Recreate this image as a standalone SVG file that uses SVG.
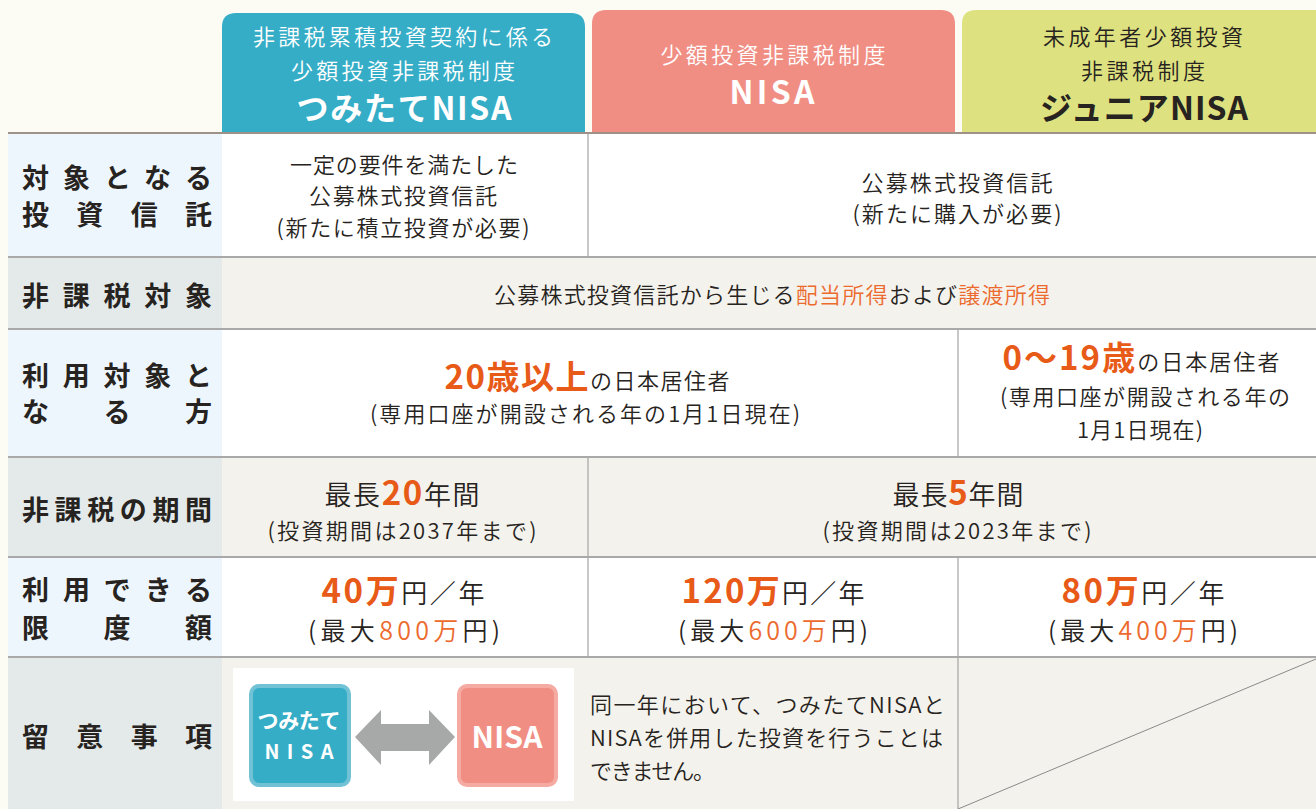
<svg xmlns="http://www.w3.org/2000/svg" width="1316" height="809" viewBox="0 0 1316 809">
<style>
text{font-family:"Noto Sans CJK JP","Noto Sans",sans-serif;fill:#262320;font-weight:350}
.lab{font-size:27px;font-weight:bold}
.c{text-anchor:middle}
.t{font-size:22px}
.s{font-size:22px}
.b{font-weight:bold}
.o{fill:#ec6a2e}
.ob{fill:#e85a17;font-weight:bold}
.w{fill:#ffffff}
.hs{font-size:22px}
.hb{font-weight:bold;font-size:32px}
.sep{stroke:#a9a9a9;stroke-width:2}
.vd{stroke:#a3a3a3;stroke-width:1.2}
</style>
<rect x="0" y="0" width="1316" height="809" fill="#fcfcf4"/>

<g id="header-tsumitate">
<path d="M222,133 V27 Q222,13 236,13 H571 Q585,13 585,27 V133 Z" fill="#35adc7"/>
<text class="c w hs" x="403" y="45" textLength="300" lengthAdjust="spacing">非課税累積投資契約に係る</text>
<text class="c w hs" x="403" y="79" textLength="224" lengthAdjust="spacing">少額投資非課税制度</text>
<text class="c w hb" x="404" y="120" textLength="215" lengthAdjust="spacing">つみたてNISA</text>
</g>
<g id="header-nisa">
<path d="M592,133 V24 Q592,10 606,10 H941 Q955,10 955,24 V133 Z" fill="#f08e84"/>
<text class="c w hs" x="773" y="63" textLength="225" lengthAdjust="spacing">少額投資非課税制度</text>
<text class="c w hb" x="772" y="104" font-size="35" textLength="85" lengthAdjust="spacing">NISA</text>
</g>
<g id="header-junior">
<path d="M962,133 V24 Q962,10 976,10 H1316 V133 Z" fill="#dee17f"/>
<text class="c hs" x="1143" y="45" textLength="200" lengthAdjust="spacing">未成年者少額投資</text>
<text class="c hs" x="1143" y="79" textLength="124" lengthAdjust="spacing">非課税制度</text>
<text class="c hb" x="1144" y="120" textLength="208" lengthAdjust="spacing">ジュニアNISA</text>
</g>

<g id="row-target-fund">
<rect x="8" y="133" width="214" height="124" fill="#eef6fd"/>
<rect x="222" y="133" width="1094" height="124" fill="#ffffff"/>
<line class="vd" x1="588" y1="133" x2="588" y2="257"/>
<text class="lab" x="22" y="188" textLength="190" lengthAdjust="spacing">対象となる</text>
<text class="lab" x="22" y="225" textLength="190" lengthAdjust="spacing">投資信託</text>
<text class="c t" x="404" y="173" textLength="228" lengthAdjust="spacing">一定の要件を満たした</text>
<text class="c t" x="403" y="204" textLength="188" lengthAdjust="spacing">公募株式投資信託</text>
<text class="c t" x="403" y="236" textLength="253" lengthAdjust="spacing">(新たに積立投資が必要)</text>
<text class="c t" x="957" y="191" textLength="191" lengthAdjust="spacing">公募株式投資信託</text>
<text class="c t" x="957" y="222" textLength="209" lengthAdjust="spacing">(新たに購入が必要)</text>
</g>

<g id="row-taxfree-target">
<rect x="8" y="257" width="214" height="72" fill="#e4eaea"/>
<rect x="222" y="257" width="1094" height="72" fill="#f4f2ec"/>
<text class="lab" x="22" y="306" textLength="190" lengthAdjust="spacing">非課税対象</text>
<text class="c t" x="772" y="303" textLength="556" lengthAdjust="spacing">公募株式投資信託から生じる<tspan class="o">配当所得</tspan>および<tspan class="o">譲渡所得</tspan></text>
</g>

<g id="row-eligible">
<rect x="8" y="329" width="214" height="128" fill="#eef6fd"/>
<rect x="222" y="329" width="1094" height="128" fill="#ffffff"/>
<line class="vd" x1="958" y1="329" x2="958" y2="457"/>
<text class="lab" x="22" y="386" textLength="190" lengthAdjust="spacing">利用対象と</text>
<text class="lab" x="22" y="422" textLength="190" lengthAdjust="spacing">なる方</text>
<text class="c t" x="587" y="389" textLength="285" lengthAdjust="spacing"><tspan class="ob" font-size="33">20歳以上</tspan>の日本居住者</text>
<text class="c t" x="585" y="422" textLength="430" lengthAdjust="spacing">(専用口座が開設される年の1月1日現在)</text>
<text class="c t" x="1141" y="370" textLength="277" lengthAdjust="spacing"><tspan class="ob" font-size="33">0〜19歳</tspan>の日本居住者</text>
<text class="c t" x="1145" y="405" textLength="290" lengthAdjust="spacing">(専用口座が開設される年の</text>
<text class="c t" x="1140" y="438" textLength="126" lengthAdjust="spacing">1月1日現在)</text>
</g>

<g id="row-period">
<rect x="8" y="457" width="214" height="100" fill="#e4eaea"/>
<rect x="222" y="457" width="1094" height="100" fill="#f4f2ec"/>
<line class="vd" x1="588" y1="457" x2="588" y2="557"/>
<text class="lab" x="22" y="520" textLength="190" lengthAdjust="spacing">非課税の期間</text>
<text class="c" x="402" y="505" font-size="27" textLength="155" lengthAdjust="spacing">最長<tspan class="ob" font-size="33">20</tspan>年間</text>
<text class="c s" x="402" y="539" textLength="269" lengthAdjust="spacing">(投資期間は2037年まで)</text>
<text class="c" x="958" y="505" font-size="27" textLength="131" lengthAdjust="spacing">最長<tspan class="ob" font-size="33">5</tspan>年間</text>
<text class="c s" x="957" y="539" textLength="269" lengthAdjust="spacing">(投資期間は2023年まで)</text>
</g>

<g id="row-limit">
<rect x="8" y="557" width="214" height="100" fill="#eef6fd"/>
<rect x="222" y="557" width="1094" height="100" fill="#ffffff"/>
<line class="vd" x1="588" y1="557" x2="588" y2="657"/>
<line class="vd" x1="958" y1="557" x2="958" y2="657"/>
<text class="lab" x="22" y="600" textLength="190" lengthAdjust="spacing">利用できる</text>
<text class="lab" x="22" y="638" textLength="190" lengthAdjust="spacing">限度額</text>
<text class="c" x="403" y="603" font-size="26" textLength="163" lengthAdjust="spacing"><tspan class="ob" font-size="33">40万</tspan>円／年</text>
<text class="c" x="404" y="640" font-size="25" textLength="192" lengthAdjust="spacing">(最大<tspan class="o">800万</tspan>円)</text>
<text class="c" x="773" y="603" font-size="26" textLength="183" lengthAdjust="spacing"><tspan class="ob" font-size="33">120万</tspan>円／年</text>
<text class="c" x="773" y="640" font-size="25" textLength="190" lengthAdjust="spacing">(最大<tspan class="o">600万</tspan>円)</text>
<text class="c" x="1143" y="603" font-size="26" textLength="163" lengthAdjust="spacing"><tspan class="ob" font-size="33">80万</tspan>円／年</text>
<text class="c" x="1143" y="640" font-size="25" textLength="190" lengthAdjust="spacing">(最大<tspan class="o">400万</tspan>円)</text>
</g>

<g id="row-notes">
<rect x="8" y="657" width="214" height="152" fill="#e4eaea"/>
<rect x="222" y="657" width="1094" height="152" fill="#f4f2ec"/>
<line class="vd" x1="958" y1="657" x2="958" y2="809"/>
<line x1="958" y1="809" x2="1316" y2="659" stroke="#8a8a8a" stroke-width="1"/>
<text class="lab" x="22" y="747" textLength="190" lengthAdjust="spacing">留意事項</text>
<rect x="233" y="668" width="341" height="133" fill="#ffffff"/>
<text class="t" x="590" y="713" textLength="355" lengthAdjust="spacing">同一年において、つみたてNISAと</text>
<text class="t" x="590" y="746" textLength="353" lengthAdjust="spacing">NISAを併用した投資を行うことは</text>
<text class="t" x="590" y="779" textLength="125" lengthAdjust="spacing">できません。</text>
</g>

<g id="node-tsumitate-small">
<rect x="251" y="686" width="98" height="99" rx="8" fill="#35adc7" stroke="#72c2d6" stroke-width="4"/>
<text class="c w b" x="299" y="728" font-size="21" textLength="83" lengthAdjust="spacing">つみたて</text>
<text class="c w b" x="299" y="759" font-size="20" textLength="69" lengthAdjust="spacing">NISA</text>
</g>
<g id="node-nisa-small">
<rect x="459" y="686" width="97" height="99" rx="8" fill="#f08e84" stroke="#f5aaa2" stroke-width="4"/>
<text class="c w b" x="507" y="748" font-size="30" textLength="71" lengthAdjust="spacing">NISA</text>
</g>

<g id="connectors">
<polygon points="355,737 381,710 381,724 429,724 429,710 455,737 429,765 429,751 381,751 381,765" fill="#a7a9a8"/>
</g>

<g id="grid-lines">
<line x1="8" y1="133" x2="1316" y2="133" stroke="#9e9188" stroke-width="2"/>
<line class="sep" x1="8" y1="257" x2="1316" y2="257"/>
<line class="sep" x1="8" y1="329" x2="1316" y2="329"/>
<line class="sep" x1="8" y1="457" x2="1316" y2="457"/>
<line class="sep" x1="8" y1="557" x2="1316" y2="557"/>
<line class="sep" x1="8" y1="657" x2="1316" y2="657"/>
</g>
</svg>
